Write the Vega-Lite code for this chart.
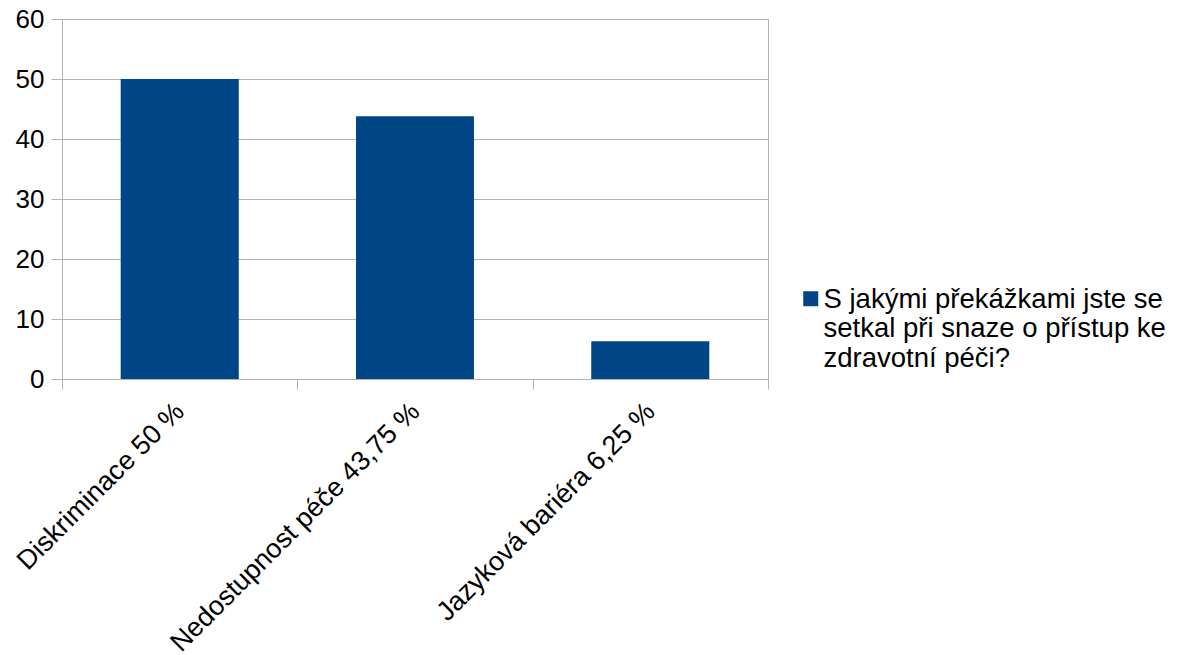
{
  "$schema": "https://vega.github.io/schema/vega-lite/v6.json",
  "autosize": {"type": "none"},
  "width": 706,
  "height": 360,
  "padding": {"left": 62, "top": 19, "right": 411, "bottom": 276},
  "background": "white",
  "config": {
    "font": "Liberation Sans",
    "view": {"stroke": "#b3b3b3", "strokeWidth": 1}
  },
  "data": {
    "values": [
      {"kategorie": "Diskriminace 50 %", "hodnota": 50, "serie": "S jakými překážkami jste se\nsetkal při snaze o přístup ke\nzdravotní péči?"},
      {"kategorie": "Nedostupnost péče 43,75 %", "hodnota": 43.75, "serie": "S jakými překážkami jste se\nsetkal při snaze o přístup ke\nzdravotní péči?"},
      {"kategorie": "Jazyková bariéra 6,25 %", "hodnota": 6.25, "serie": "S jakými překážkami jste se\nsetkal při snaze o přístup ke\nzdravotní péči?"}
    ]
  },
  "resolve": {"axis": {"x": "independent"}},
  "layer": [
    {
      "mark": {"type": "bar"},
      "encoding": {
        "x": {
          "field": "kategorie",
          "type": "nominal",
          "sort": null,
          "scale": {"paddingInner": 0.5, "paddingOuter": 0.25},
          "axis": {
            "orient": "bottom",
            "title": null,
            "labelAngle": -45,
            "labelAlign": "right",
            "labelBaseline": "middle",
            "labelFontSize": 27,
            "labelColor": "#000000",
            "labelPadding": 18,
            "labelLimit": 500,
            "labelOffset": 117.67,
            "tickOffset": -117.67,
            "tickSize": 10,
            "tickColor": "#b3b3b3",
            "domainColor": "#b3b3b3",
            "grid": false
          }
        },
        "y": {
          "field": "hodnota",
          "type": "quantitative",
          "scale": {"domain": [0, 60]},
          "axis": {
            "title": null,
            "values": [0, 10, 20, 30, 40, 50, 60],
            "labelFontSize": 26,
            "labelColor": "#000000",
            "labelPadding": 7,
            "tickSize": 11,
            "tickColor": "#b3b3b3",
            "domainColor": "#b3b3b3",
            "gridColor": "#b3b3b3",
            "grid": true
          }
        },
        "color": {
          "field": "serie",
          "type": "nominal",
          "scale": {"range": ["#004586"]},
          "legend": {
            "title": null,
            "orient": "none",
            "legendX": 735,
            "legendY": 266,
            "symbolType": "square",
            "symbolSize": 225,
            "symbolFillColor": "#004586",
            "symbolStrokeWidth": 0,
            "labelFontSize": 27.5,
            "labelColor": "#000000",
            "labelLimit": 500,
            "labelOffset": -1,
            "labelBaseline": "top",
            "labelExpr": "split(datum.label, '\\n')",
            "labelLineHeight": 30,
            "encoding": {"labels": {"dy": {"value": -13}}}
          }
        }
      }
    },
    {
      "mark": {"type": "bar", "color": "#004586"},
      "encoding": {
        "x": {
          "field": "kategorie",
          "type": "nominal",
          "sort": null,
          "axis": {
            "orient": "bottom",
            "title": null,
            "labels": false,
            "domain": false,
            "tickOffset": 117.67,
            "tickSize": 10,
            "tickColor": "#b3b3b3",
            "grid": false
          }
        },
        "y": {"field": "hodnota", "type": "quantitative"}
      }
    }
  ]
}
